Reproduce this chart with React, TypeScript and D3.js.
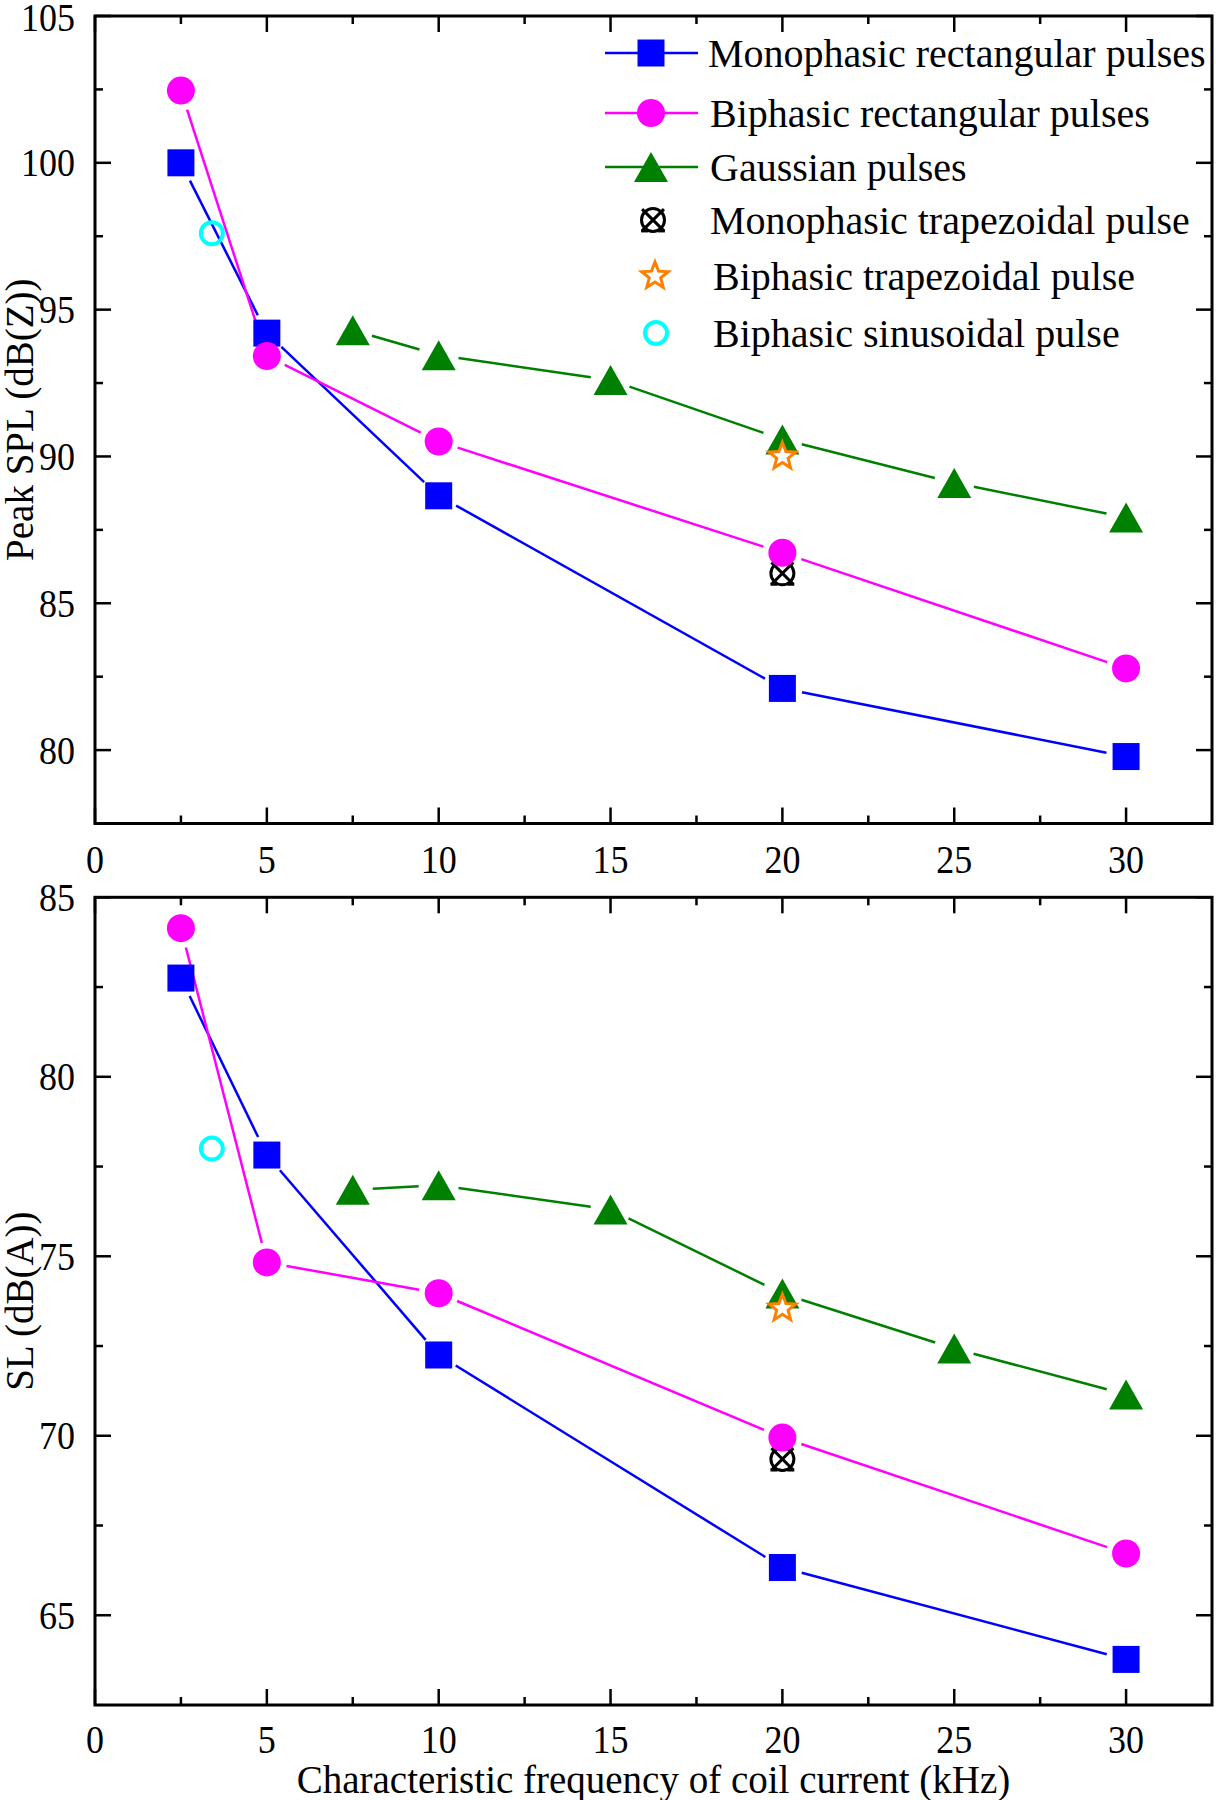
import React from 'react';
import * as d3 from 'd3';

// ---------------- data ----------------
const freqMono = [2.5, 5, 10, 20, 30];
const splMono = [100.0, 94.2, 88.66, 82.1, 79.78];
const slMono = [82.75, 77.82, 72.25, 66.33, 63.77];

const freqBi = [2.5, 5, 10, 20, 30];
const splBi = [102.46, 93.42, 90.51, 86.72, 82.78];
const slBi = [84.14, 74.83, 73.97, 69.95, 66.72];

const freqGauss = [7.5, 10, 15, 20, 25, 30];
const splGauss = [94.3, 93.45, 92.6, 90.58, 89.1, 87.92];
const slGauss = [76.85, 76.98, 76.3, 73.96, 72.43, 71.15];

const freqTrap = [20];
const splMonoTrap = [86.02];
const slMonoTrap = [69.35];
const splBiTrap = [90.0];
const slBiTrap = [73.55];

const freqSin = [3.4];
const splSin = [97.6];
const slSin = [78.0];

const xTicks = [0, 5, 10, 15, 20, 25, 30];
const xMinor = [2.5, 7.5, 12.5, 17.5, 22.5, 27.5];
const splTicks = [80, 85, 90, 95, 100, 105];
const splMinor = [82.5, 87.5, 92.5, 97.5, 102.5];
const slTicks = [65, 70, 75, 80, 85];
const slMinor = [67.5, 72.5, 77.5, 82.5];

const legendLabels = [
  'Monophasic rectangular pulses',
  'Biphasic rectangular pulses',
  'Gaussian pulses',
  'Monophasic trapezoidal pulse',
  'Biphasic trapezoidal pulse',
  'Biphasic sinusoidal pulse',
];

const FONT = '"Liberation Serif", "Times New Roman", serif';
const BLUE = '#0000ff';
const MAGENTA = '#ff00ff';
const GREEN = '#008000';
const ORANGE = '#ff8000';
const CYAN = '#00ffff';

type MarkerType = 'square' | 'circle' | 'triangle' | 'crossed' | 'star' | 'open';

function Marker({ type, x, y }: { type: MarkerType; x: number; y: number }) {
  if (type === 'square') {
    return <rect x={x - 13.5} y={y - 13.5} width={27} height={27} fill={BLUE} />;
  }
  if (type === 'circle') {
    return <circle cx={x} cy={y} r={14} fill={MAGENTA} />;
  }
  if (type === 'triangle') {
    const w = 34, h = 30;
    return (
      <path
        d={`M${x},${y - h / 2}L${x + w / 2},${y + h / 2}L${x - w / 2},${y + h / 2}Z`}
        fill={GREEN}
      />
    );
  }
  if (type === 'crossed') {
    const r = 11.5;
    const d = r * 0.95;
    return (
      <g stroke="#000" strokeWidth={3} fill="none">
        <circle cx={x} cy={y} r={r} />
        <line x1={x - d} y1={y - d} x2={x + d} y2={y + d} />
        <line x1={x - d} y1={y + d} x2={x + d} y2={y - d} />
        <line x1={x - d - 1} y1={y + d} x2={x - d + 6} y2={y + d} />
        <line x1={x + d - 6} y1={y + d} x2={x + d + 1} y2={y + d} />
      </g>
    );
  }
  if (type === 'star') {
    const pts: string[] = [];
    const R = 14, r = 6;
    for (let i = 0; i < 10; i++) {
      const a = -Math.PI / 2 + (i * Math.PI) / 5;
      const rr = i % 2 === 0 ? R : r;
      pts.push(`${x + rr * Math.cos(a)},${y + rr * Math.sin(a)}`);
    }
    return <polygon points={pts.join(' ')} fill="#fff" stroke={ORANGE} strokeWidth={3} strokeLinejoin="miter" />;
  }
  return <circle cx={x} cy={y} r={11} fill="none" stroke={CYAN} strokeWidth={4} />;
}

function GappedLine({ pts, color, gap = 20 }: { pts: [number, number][]; color: string; gap?: number }) {
  const segs = [];
  for (let i = 0; i < pts.length - 1; i++) {
    const [x1, y1] = pts[i];
    const [x2, y2] = pts[i + 1];
    const dx = x2 - x1, dy = y2 - y1;
    const L = Math.hypot(dx, dy);
    if (L <= 2 * gap) continue;
    const ux = dx / L, uy = dy / L;
    segs.push(
      <line
        key={i}
        x1={x1 + ux * gap}
        y1={y1 + uy * gap}
        x2={x2 - ux * gap}
        y2={y2 - uy * gap}
        stroke={color}
        strokeWidth={2.5}
      />
    );
  }
  return <g>{segs}</g>;
}

interface PanelProps {
  top: number;
  bottom: number;
  yDomain: [number, number];
  yTicks: number[];
  yMinor: number[];
  mono: number[];
  bi: number[];
  gauss: number[];
  monoTrap: number[];
  biTrap: number[];
  sin: number[];
  yLabel: string;
  xLabelY: number;
  legend?: boolean;
}

const LEFT = 95;
const RIGHT = 1212;

function Panel(p: PanelProps) {
  const x = d3.scaleLinear().domain([0, 32.5]).range([LEFT, RIGHT]);
  const y = d3.scaleLinear().domain(p.yDomain).range([p.bottom, p.top]);
  const MAJ = 16, MIN = 8;
  const toPts = (xs: number[], ys: number[]) => xs.map((v, i) => [x(v), y(ys[i])] as [number, number]);

  return (
    <g>
      {/* ticks */}
      <g stroke="#000" strokeWidth={2.5}>
        {xTicks.map((t) => (
          <g key={'xt' + t}>
            <line x1={x(t)} x2={x(t)} y1={p.bottom} y2={p.bottom - MAJ} />
            <line x1={x(t)} x2={x(t)} y1={p.top} y2={p.top + MAJ} />
          </g>
        ))}
        {xMinor.map((t) => (
          <g key={'xm' + t}>
            <line x1={x(t)} x2={x(t)} y1={p.bottom} y2={p.bottom - MIN} />
            <line x1={x(t)} x2={x(t)} y1={p.top} y2={p.top + MIN} />
          </g>
        ))}
        {p.yTicks.map((t) => (
          <g key={'yt' + t}>
            <line x1={LEFT} x2={LEFT + MAJ} y1={y(t)} y2={y(t)} />
            <line x1={RIGHT} x2={RIGHT - MAJ} y1={y(t)} y2={y(t)} />
          </g>
        ))}
        {p.yMinor.map((t) => (
          <g key={'ym' + t}>
            <line x1={LEFT} x2={LEFT + MIN} y1={y(t)} y2={y(t)} />
            <line x1={RIGHT} x2={RIGHT - MIN} y1={y(t)} y2={y(t)} />
          </g>
        ))}
      </g>
      <rect x={LEFT} y={p.top} width={RIGHT - LEFT} height={p.bottom - p.top} fill="none" stroke="#000" strokeWidth={3} />

      {/* tick labels (slightly condensed like the reference) */}
      <g fontFamily={FONT} fontSize={40} fill="#000">
        {xTicks.map((t) => (
          <text
            key={'xl' + t}
            transform={`translate(${x(t)},${p.xLabelY}) scale(0.9,1)`}
            textAnchor="middle"
            dominantBaseline="central"
          >
            {t}
          </text>
        ))}
        {p.yTicks.map((t) => (
          <text
            key={'yl' + t}
            transform={`translate(${LEFT - 20},${Math.max(y(t), 17)}) scale(0.9,1)`}
            textAnchor="end"
            dominantBaseline="central"
          >
            {t}
          </text>
        ))}
      </g>
      <text
        fontFamily={FONT}
        fontSize={39}
        textAnchor="middle"
        dominantBaseline="central"
        transform={`translate(19,${(p.top + p.bottom) / 2}) rotate(-90)`}
      >
        {p.yLabel}
      </text>

      {/* lines */}
      <GappedLine pts={toPts(freqMono, p.mono)} color={BLUE} />
      <GappedLine pts={toPts(freqBi, p.bi)} color={MAGENTA} />
      <GappedLine pts={toPts(freqGauss, p.gauss)} color={GREEN} />

      {/* markers */}
      {freqSin.map((f, i) => <Marker key={'s' + i} type="open" x={x(f)} y={y(p.sin[i])} />)}
      {freqMono.map((f, i) => <Marker key={'m' + i} type="square" x={x(f)} y={y(p.mono[i])} />)}
      {freqGauss.map((f, i) => <Marker key={'g' + i} type="triangle" x={x(f)} y={y(p.gauss[i])} />)}
      {freqTrap.map((f, i) => <Marker key={'bt' + i} type="star" x={x(f)} y={y(p.biTrap[i])} />)}
      {freqTrap.map((f, i) => <Marker key={'mt' + i} type="crossed" x={x(f)} y={y(p.monoTrap[i])} />)}
      {freqBi.map((f, i) => <Marker key={'b' + i} type="circle" x={x(f)} y={y(p.bi[i])} />)}

      {p.legend && <Legend />}
    </g>
  );
}

function Legend() {
  const rows: { y: number; type: MarkerType; line?: string; mx: number; tx: number }[] = [
    { y: 53, type: 'square', line: BLUE, mx: 651, tx: 708 },
    { y: 113, type: 'circle', line: MAGENTA, mx: 651, tx: 710 },
    { y: 167, type: 'triangle', line: GREEN, mx: 651, tx: 710 },
    { y: 220, type: 'crossed', mx: 653, tx: 710 },
    { y: 276, type: 'star', mx: 655, tx: 713 },
    { y: 333, type: 'open', mx: 656, tx: 713 },
  ];
  return (
    <g>
      {rows.map((r, i) => (
        <g key={i}>
          {r.line && <line x1={605} x2={698} y1={r.y} y2={r.y} stroke={r.line} strokeWidth={2.5} />}
          <Marker type={r.type} x={r.mx} y={r.y} />
          <text x={r.tx} y={r.y} fontFamily={FONT} fontSize={40} dominantBaseline="central">
            {legendLabels[i]}
          </text>
        </g>
      ))}
    </g>
  );
}

export default function App() {
  return (
    <svg
      width={1216}
      height={1800}
      viewBox="0 0 1216 1800"
      style={{ position: 'absolute', left: 0, top: 0, background: '#fff' }}
    >
      <rect width={1216} height={1800} fill="#fff" />
      <Panel
        top={16}
        bottom={823.5}
        yDomain={[77.5, 105]}
        yTicks={splTicks}
        yMinor={splMinor}
        mono={splMono}
        bi={splBi}
        gauss={splGauss}
        monoTrap={splMonoTrap}
        biTrap={splBiTrap}
        sin={splSin}
        yLabel="Peak SPL (dB(Z))"
        xLabelY={859}
        legend
      />
      <Panel
        top={897.3}
        bottom={1705}
        yDomain={[62.5, 85]}
        yTicks={slTicks}
        yMinor={slMinor}
        mono={slMono}
        bi={slBi}
        gauss={slGauss}
        monoTrap={slMonoTrap}
        biTrap={slBiTrap}
        sin={slSin}
        yLabel="SL (dB(A))"
        xLabelY={1739}
      />
      <text
        x={(LEFT + RIGHT) / 2}
        y={1779}
        fontFamily={FONT}
        fontSize={39}
        textAnchor="middle"
        dominantBaseline="central"
      >
        Characteristic frequency of coil current (kHz)
      </text>
    </svg>
  );
}
